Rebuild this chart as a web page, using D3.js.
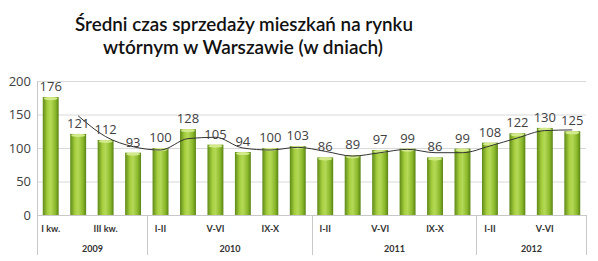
<!DOCTYPE html>
<meta charset="utf-8">
<style>
body { margin: 0; background: #fff; }
svg { display: block; font-family: Lato, "Liberation Sans", sans-serif; }
.grid line { stroke: #d9d9d9; }
.axis--y path, .axis--y line { display: none; }
.axis--y text { font-size: 13px; fill: #404040; font-family: "Open Sans", sans-serif; }
.lbl { font-size: 13px; fill: #404040; font-family: "Open Sans", sans-serif; text-anchor: middle; }
.cat { font-size: 9px; font-weight: bold; fill: #333; text-anchor: middle; }
.sep { stroke: #c8c8c8; }
</style>
<svg width="598" height="261"></svg>
<script src="https://d3js.org/d3.v7.min.js"></script>
<script>

var values = [176, 121, 112, 93, 100, 128, 105, 94, 100, 103, 86, 89, 97, 99, 86, 99, 108, 122, 130, 125];
var categories = ["I kw.", "", "III kw.", "", "I-II", "", "V-VI", "", "IX-X", "", "I-II", "", "V-VI", "", "IX-X", "", "I-II", "", "V-VI", ""];
var years = ["2009", "2010", "2011", "2012"];
var yearSizes = [4, 6, 6, 4];
// trend line, starts at the 2nd bar
var trend = [148, 117, 102, 97, 114, 116, 100, 97, 101, 95, 88, 93, 98, 93, 93, 103, 115, 126, 127];
var yTicks = [0, 50, 100, 150, 200];

var svg = d3.select("svg"),
margin = {top: 81, right: 12, bottom: 46, left: 37},
width = +svg.attr("width") - margin.left - margin.right,
height = +svg.attr("height") - margin.top - margin.bottom;

var idx = d3.range(values.length);
var x = d3.scaleBand().domain(idx).range([0, width]).paddingInner(0.42).paddingOuter(0.21),
y = d3.scaleLinear().domain([0, 200]).range([height, 0]);

var defs = svg.append("defs");
var grad = defs.append("linearGradient").attr("id", "barg").attr("x1", "0").attr("x2", "1").attr("y1", "0").attr("y2", "0");
grad.append("stop").attr("offset", "0").attr("stop-color", "#5e8a18");
grad.append("stop").attr("offset", "0.3").attr("stop-color", "#a6cf3e");
grad.append("stop").attr("offset", "0.5").attr("stop-color", "#b4d957");
grad.append("stop").attr("offset", "0.8").attr("stop-color", "#8ab82a");
grad.append("stop").attr("offset", "1").attr("stop-color", "#5a8416");

// title
var title = svg.append("g").attr("font-weight", 600).attr("font-size", 20).attr("fill", "#111").attr("text-anchor", "middle");
title.append("text").attr("x", 244).attr("y", 31).attr("textLength", 338).attr("lengthAdjust", "spacingAndGlyphs").text("Średni czas sprzedaży mieszkań na rynku");
title.append("text").attr("x", 243).attr("y", 54).attr("textLength", 280).attr("lengthAdjust", "spacingAndGlyphs").text("wtórnym w Warszawie (w dniach)");

var g = svg.append("g").attr("transform", "translate(" + margin.left + "," + margin.top + ")");

g.append("g").attr("class", "grid")
.selectAll("line").data(yTicks).enter().append("line")
.attr("x1", 0).attr("x2", width)
.attr("y1", function(d) { return y(d) + 0.5; }).attr("y2", function(d) { return y(d) + 0.5; });

g.append("g").attr("class", "axis axis--y")
.call(d3.axisLeft(y).tickValues(yTicks).tickSize(0).tickPadding(6));

// separators
var bounds = [0];
yearSizes.forEach(function(s, i) { bounds.push(bounds[i] + s); });
var step = x.step();
var xb = function(b) { return Math.round(x(0) - x.paddingOuter() * step + b * step + (b === 0 ? 0 : 0)) + 0.5; };
g.append("g").selectAll("line").data(bounds).enter().append("line")
.attr("class", "sep")
.attr("x1", function(b) { return b === 0 ? 0.5 : xb(b); })
.attr("x2", function(b) { return b === 0 ? 0.5 : xb(b); })
.attr("y1", function(b) { return b === 0 ? 0 : height; })
.attr("y2", height + 40);

g.selectAll(".bar").data(values).enter().append("rect")
.attr("class", "bar")
.attr("x", function(d, i) { return x(i); })
.attr("y", function(d) { return y(d); })
.attr("width", x.bandwidth())
.attr("height", function(d) { return height - y(d); })
.attr("fill", "url(#barg)");

// light top cap
g.selectAll(".cap").data(values).enter().append("ellipse")
.attr("cx", function(d, i) { return x(i) + x.bandwidth() / 2; })
.attr("cy", function(d) { return y(d) + 1.5; })
.attr("rx", x.bandwidth() / 2 - 1)
.attr("ry", 1.6)
.attr("fill", "#d3ea8c");

var line = d3.line()
.x(function(d, i) { return x(i + 1) + x.bandwidth() / 2; })
.y(function(d) { return y(d); })
.curve(d3.curveMonotoneX);
g.append("path").datum(trend).attr("d", line)
.attr("fill", "none").attr("stroke", "#333").attr("stroke-width", 1);

g.selectAll(".lbl").data(values).enter().append("text")
.attr("class", "lbl")
.attr("x", function(d, i) { return x(i) + x.bandwidth() / 2; })
.attr("y", function(d) { return y(d) - 6; })
.text(function(d) { return d; });

// axis line
g.append("line").attr("x1", 0).attr("x2", width).attr("y1", height + 0.5).attr("y2", height + 0.5).attr("stroke", "#c8c8c8");

g.selectAll(".cat").data(categories).enter().append("text")
.attr("class", "cat")
.attr("x", function(d, i) { return x(i) + x.bandwidth() / 2; })
.attr("y", height + 17)
.text(function(d) { return d; });

g.selectAll(".yr").data(years).enter().append("text")
.attr("class", "cat")
.attr("x", function(d, i) { return (xb(bounds[i]) + xb(bounds[i + 1])) / 2; })
.attr("y", height + 37)
.text(function(d) { return d; });

</script>
